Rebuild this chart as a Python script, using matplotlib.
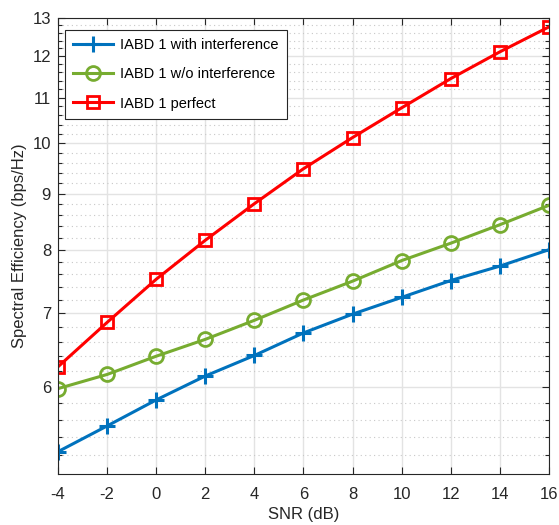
import numpy as np
import matplotlib
matplotlib.use('Agg')
import matplotlib.pyplot as plt
from matplotlib.ticker import FixedLocator, FixedFormatter, NullFormatter

plt.rcParams['font.family'] = ['Liberation Sans', 'DejaVu Sans']
plt.rcParams['axes.unicode_minus'] = False

snr = [-4, -2, 0, 2, 4, 6, 8, 10, 12, 14, 16]
with_interf = [5.24, 5.53, 5.84, 6.14, 6.41, 6.72, 6.99, 7.24, 7.50, 7.73, 8.00]
wo_interf = [5.98, 6.16, 6.40, 6.63, 6.90, 7.20, 7.49, 7.82, 8.11, 8.43, 8.78]
perfect = [6.26, 6.87, 7.52, 8.16, 8.81, 9.48, 10.12, 10.77, 11.45, 12.11, 12.76]
y_major = [6, 7, 8, 9, 10, 11, 12, 13]
x_ticks = [-4, -2, 0, 2, 4, 6, 8, 10, 12, 14, 16]

fig = plt.figure(figsize=(5.59, 5.25), dpi=100)
ax = fig.add_axes([0.1038, 0.0971, 0.8782, 0.8686])

ax.plot(snr, with_interf, '-+', color='#0072BD', lw=2.2, ms=11, mew=2.2,
        label='IABD 1 with interference')
ax.plot(snr, wo_interf, '-o', color='#77AC30', lw=2.2, ms=10, mew=2,
        mfc='none', label='IABD 1 w/o interference')
ax.plot(snr, perfect, '-s', color='#FF0000', lw=2.2, ms=8.5, mew=2,
        mfc='none', label='IABD 1 perfect')

ax.set_yscale('log')
ax.set_xlim(-4, 16)
ax.set_ylim(5.0, 13)
ax.set_xticks(x_ticks)
ax.set_xticklabels([str(v) for v in x_ticks])
ax.yaxis.set_major_locator(FixedLocator(y_major))
ax.yaxis.set_major_formatter(FixedFormatter([str(v) for v in y_major]))
minor = [round(v, 1) for v in np.arange(5.0, 13.01, 0.2) if abs(v - round(v)) > 1e-6]
ax.yaxis.set_minor_locator(FixedLocator(minor))
ax.yaxis.set_minor_formatter(NullFormatter())

ax.grid(True, which='major', color='#e3e3e3', lw=1)
ax.grid(True, which='minor', axis='y', color='#c8c8c8', ls=(0, (1, 3)), lw=0.8)
ax.set_axisbelow(True)

ax.tick_params(which='both', direction='in', top=True, right=True,
               labelsize=12, colors='#262626', width=0.8)
ax.tick_params(which='major', length=5)
ax.tick_params(which='minor', length=3)
ax.tick_params(axis='x', pad=9)
ax.tick_params(axis='y', pad=5)
for s in ax.spines.values():
    s.set_color('#262626')
    s.set_linewidth(0.8)

ax.set_xlabel('SNR (dB)', fontsize=12, color='#262626', labelpad=4)
ax.set_ylabel('Spectral Efficiency (bps/Hz)', fontsize=12, color='#262626', labelpad=4)

leg = ax.legend(loc='upper left', fancybox=False, framealpha=1, fontsize=10.5,
                edgecolor='#262626', handlelength=2.75, handletextpad=0.5,
                borderpad=0.55, borderaxespad=0, labelspacing=1.05,
                bbox_to_anchor=(0.014, 0.974))
leg.get_frame().set_linewidth(0.8)

fig.savefig('out.png', dpi=100)
